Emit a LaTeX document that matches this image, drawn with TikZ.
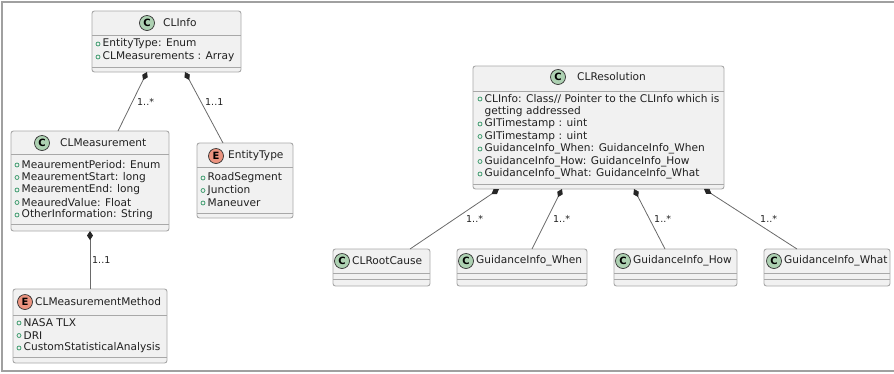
\documentclass[tikz,border=0pt]{standalone}
\usepackage{fontspec}
\setmainfont{DejaVu Sans}
\usetikzlibrary{arrows.meta}
\definecolor{boxfill}{HTML}{F1F1F1}
\definecolor{boxdraw}{HTML}{A8A8A8}
\definecolor{cfill}{HTML}{ADD1B2}
\definecolor{efill}{HTML}{EB937F}
\definecolor{pubgreen}{HTML}{3E9B6E}
\definecolor{linkcol}{HTML}{6A6A6A}
\definecolor{framecol}{HTML}{A0A0A0}
\definecolor{txtcol}{HTML}{202020}
\tikzset{
  umlbox/.style={draw=boxdraw, fill=boxfill, rounded corners=2.5pt, line width=0.9pt, inner sep=0pt, outer sep=0pt},
  sepline/.style={draw=boxdraw, line width=0.9pt},
  badge/.style={circle, draw=black!80, line width=0.7pt, minimum size=15pt, inner sep=0pt,
    font=\fontsize{10}{10}\selectfont\bfseries},
  cbadge/.style={badge, fill=cfill},
  ebadge/.style={badge, fill=efill},
  titletext/.style={anchor=west, inner sep=0pt, text=txtcol, font=\fontsize{10.6}{12}\selectfont},
  attrtext/.style={anchor=west, inner sep=0pt, text=txtcol, font=\fontsize{10.6}{12}\selectfont},
  pub/.style={circle, draw=pubgreen, line width=0.75pt, minimum size=4.0pt, inner sep=0pt},
  link/.style={draw=linkcol, line width=0.8pt, {Diamond[length=9pt,width=6pt,color=black!85,fill=black!85]}-},
  multlabel/.style={anchor=west, inner sep=0pt, text=txtcol, font=\fontsize{9.5}{11}\selectfont},
  frameline/.style={draw=framecol, line width=1.2pt}
}
% name, x1, y1, x2, y2, header separator y, attribute separator y
\newcommand\umlclassbox[7]{%
  \node[umlbox, anchor=north west, minimum width={(#4-#2)*1pt}, minimum height={(#5-#3)*1pt}] (#1) at (#2,#3) {};
  \draw[sepline] (#2,#6) -- (#4,#6);
  \draw[sepline] (#2,#7) -- (#4,#7);
}
\begin{document}
\begin{tikzpicture}[x=1pt,y=-1pt]
\useasboundingbox (0,0) rectangle (894,373);
% outer frame (top, left, bottom)
\draw[frameline] (894,2) -- (2,2) -- (2,371) -- (894,371);

% ---------- CLInfo ----------
\umlclassbox{clinfo}{92}{11}{241}{72}{35}{67}
\node[cbadge] (clinfoB) at (147,23) {C};
\node[titletext] (clinfoT) at (163,23) {CLInfo};
\node[pub] (clinfoP1) at (98,44) {};
\node[attrtext] (clinfoA1) at (102.5,44) {EntityType: Enum};
\node[pub] (clinfoP2) at (98,57) {};
\node[attrtext] (clinfoA2) at (102.5,57) {CLMeasurements : Array};

% ---------- CLMeasurement ----------
\umlclassbox{clmeas}{11}{131}{169}{231}{154}{224}
\node[cbadge] (clmeasB) at (42,143) {C};
\node[titletext] (clmeasT) at (60,143) {CLMeasurement};
\node[pub] (clmeasP1) at (17,165) {};
\node[attrtext] (clmeasA1) at (21.5,165) {MeaurementPeriod: Enum};
\node[pub] (clmeasP2) at (17,177.5) {};
\node[attrtext] (clmeasA2) at (21.5,177.5) {MeaurementStart: long};
\node[pub] (clmeasP3) at (17,190) {};
\node[attrtext] (clmeasA3) at (21.5,190) {MeaurementEnd: long};
\node[pub] (clmeasP4) at (17,202.5) {};
\node[attrtext] (clmeasA4) at (21.5,202.5) {MeauredValue: Float};
\node[pub] (clmeasP5) at (17,215) {};
\node[attrtext] (clmeasA5) at (21.5,215) {OtherInformation: String};

% ---------- EntityType ----------
\umlclassbox{enttype}{197}{143}{293}{218}{167}{213}
\node[ebadge] (enttypeB) at (216,156) {E};
\node[titletext] (enttypeT) at (228,156) {EntityType};
\node[pub] (enttypeP1) at (203,178) {};
\node[attrtext] (enttypeA1) at (207.5,178) {RoadSegment};
\node[pub] (enttypeP2) at (203,190.5) {};
\node[attrtext] (enttypeA2) at (207.5,190.5) {Junction};
\node[pub] (enttypeP3) at (203,203) {};
\node[attrtext] (enttypeA3) at (207.5,203) {Maneuver};

% ---------- CLMeasurementMethod ----------
\umlclassbox{clmm}{13}{289}{167}{363}{315}{357}
\node[ebadge] (clmmB) at (25,302) {E};
\node[titletext] (clmmT) at (35,302) {CLMeasurementMethod};
\node[pub] (clmmP1) at (19,323) {};
\node[attrtext] (clmmA1) at (23.5,323) {NASA TLX};
\node[pub] (clmmP2) at (19,335.5) {};
\node[attrtext] (clmmA2) at (23.5,335.5) {DRI};
\node[pub] (clmmP3) at (19,348) {};
\node[attrtext] (clmmA3) at (23.5,348) {CustomStatisticalAnalysis};

% ---------- CLResolution ----------
\umlclassbox{clres}{473}{66}{724}{189}{91}{184}
\node[cbadge] (clresB) at (558,77) {C};
\node[titletext] (clresT) at (577,77) {CLResolution};
\node[pub] (clresP1) at (480,99) {};
\node[attrtext] (clresA1) at (484.5,99) {CLInfo: Class// Pointer to the CLInfo which is};
\node[attrtext] (clresA1b) at (484.5,111.5) {getting addressed};
\node[pub] (clresP2) at (480,124) {};
\node[attrtext] (clresA2) at (484.5,124) {GITimestamp : uint};
\node[pub] (clresP3) at (480,136.5) {};
\node[attrtext] (clresA3) at (484.5,136.5) {GITimestamp : uint};
\node[pub] (clresP4) at (480,149) {};
\node[attrtext] (clresA4) at (484.5,149) {GuidanceInfo\_When: GuidanceInfo\_When};
\node[pub] (clresP5) at (480,161.5) {};
\node[attrtext] (clresA5) at (484.5,161.5) {GuidanceInfo\_How: GuidanceInfo\_How};
\node[pub] (clresP6) at (480,174) {};
\node[attrtext] (clresA6) at (484.5,174) {GuidanceInfo\_What: GuidanceInfo\_What};

% ---------- bottom row ----------
\umlclassbox{rootcause}{333}{249}{430}{286}{273}{279}
\node[cbadge] (rootcauseB) at (342,261) {C};
\node[titletext] (rootcauseT) at (352,261) {CLRootCause};

\umlclassbox{giwhen}{457}{249}{587}{286}{273}{279}
\node[cbadge] (giwhenB) at (466,261) {C};
\node[titletext] (giwhenT) at (476,261) {GuidanceInfo\_When};

\umlclassbox{gihow}{614}{249}{737}{286}{273}{279}
\node[cbadge] (gihowB) at (623,261) {C};
\node[titletext] (gihowT) at (633,261) {GuidanceInfo\_How};

\umlclassbox{giwhat}{764}{249}{890}{286}{273}{279}
\node[cbadge] (giwhatB) at (774,261) {C};
\node[titletext] (giwhatT) at (784,261) {GuidanceInfo\_What};

% ---------- connector end points ----------
\coordinate (c1s) at (147,72);  \coordinate (c1e) at (118,131);
\coordinate (c2s) at (185,72);  \coordinate (c2e) at (223,143);
\coordinate (c3s) at (90,231);  \coordinate (c3e) at (90,289);
\coordinate (c4s) at (499,189); \coordinate (c4e) at (410,249);
\coordinate (c5s) at (562,189); \coordinate (c5e) at (532,249);
\coordinate (c6s) at (634,189); \coordinate (c6e) at (665,249);
\coordinate (c7s) at (704,189); \coordinate (c7e) at (797,249);

\draw[link] (c1s) -- (c1e);
\draw[link] (c2s) -- (c2e);
\draw[link] (c3s) -- (c3e);
\draw[link] (c4s) -- (c4e);
\draw[link] (c5s) -- (c5e);
\draw[link] (c6s) -- (c6e);
\draw[link] (c7s) -- (c7e);

\node[multlabel] (m1) at (137,102) {1..*};
\node[multlabel] (m2) at (205,102) {1..1};
\node[multlabel] (m3) at (92,260) {1..1};
\node[multlabel] (m4) at (466,219) {1..*};
\node[multlabel] (m5) at (553,219) {1..*};
\node[multlabel] (m6) at (654,219) {1..*};
\node[multlabel] (m7) at (760,219) {1..*};
\end{tikzpicture}
\end{document}
